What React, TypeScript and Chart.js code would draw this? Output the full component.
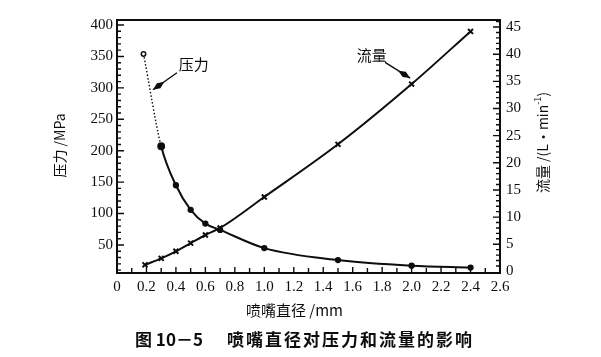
import React, { useEffect, useRef } from "react";
import { Chart, registerables } from "chart.js";

Chart.register(...registerables);

// ---- data ----
const pressureDiameters = [0.18, 0.3, 0.4, 0.5, 0.6, 0.7, 1.0, 1.5, 2.0, 2.4];
const pressureValues = [354, 207, 145, 106, 84, 74, 45, 26, 17, 14];
const flowDiameters = [0.19, 0.3, 0.4, 0.5, 0.6, 0.7, 1.0, 1.5, 2.0, 2.4];
const flowValues = [1.2, 2.4, 3.7, 5.2, 6.7, 8.0, 13.7, 23.4, 34.5, 44.2];
const xTickValues = [0, 0.2, 0.4, 0.6, 0.8, 1.0, 1.2, 1.4, 1.6, 1.8, 2.0, 2.2, 2.4, 2.6];
const pressureTickValues = [50, 100, 150, 200, 250, 300, 350, 400];
const flowTickValues = [0, 5, 10, 15, 20, 25, 30, 35, 40, 45];

const xTitle = "喷嘴直径 /mm";
const leftTitle = "压力 /MPa";
const rightTitleBase = "流量 /(L·min";
const rightTitleSup = "-1";
const captionFigure = "图 10－5";
const captionText = "喷嘴直径对压力和流量的影响";
const pressureLabel = "压力";
const flowLabel = "流量";
// annotation anchors in data units: [labelX, labelY, arrowFromX, arrowFromY, arrowToX, arrowToY]
const pressureNote = [0.42, 338, 0.407, 324, 0.244, 297];
const flowNote = [1.73, 39.8, 1.82, 38.5, 1.99, 35.6];

const INK = "#0d0d0d";
const CJK = '"Noto Sans CJK SC", sans-serif';
const SERIF = '"Liberation Serif", "DejaVu Serif", serif';

function arrow(ctx: CanvasRenderingContext2D, x0: number, y0: number, x1: number, y1: number) {
  const ang = Math.atan2(y1 - y0, x1 - x0);
  ctx.beginPath();
  ctx.moveTo(x0, y0);
  ctx.lineTo(x1, y1);
  ctx.lineWidth = 1.4;
  ctx.stroke();
  const L = 14, W = 3;
  const bx = x1 - Math.cos(ang) * L, by = y1 - Math.sin(ang) * L;
  const mx = x1 - Math.cos(ang) * L * 0.5, my = y1 - Math.sin(ang) * L * 0.5;
  const nx = -Math.sin(ang), ny = Math.cos(ang);
  ctx.beginPath();
  ctx.moveTo(x1, y1);
  ctx.lineTo(mx + nx * W, my + ny * W);
  ctx.lineTo(bx, by);
  ctx.lineTo(mx - nx * W, my - ny * W);
  ctx.closePath();
  ctx.fill();
}

const decorPlugin = {
  id: "decor",
  afterDraw(chart: any) {
    const { ctx, chartArea: a, scales } = chart;
    const sx = scales.x, sy = scales.y, sy1 = scales.y1;
    ctx.save();
    ctx.strokeStyle = INK;
    ctx.fillStyle = INK;
    // frame
    ctx.lineWidth = 2;
    ctx.strokeRect(a.left, a.top, a.right - a.left, a.bottom - a.top);
    // inward ticks
    ctx.lineWidth = 1.4;
    ctx.beginPath();
    for (let i = 1; i < 26; i++) {
      const px = sx.getPixelForValue(i / 10);
      ctx.moveTo(px, a.bottom);
      ctx.lineTo(px, a.bottom - (i % 2 === 0 ? 6 : 5));
    }
    for (let v = 10; v <= 400; v += 10) {
      const py = sy.getPixelForValue(v);
      const L = v % 50 === 0 ? 7 : 4;
      ctx.moveTo(a.left, py);
      ctx.lineTo(a.left + L, py);
    }
    for (let v = 1; v <= 46; v++) {
      const py = sy1.getPixelForValue(v);
      const L = v % 5 === 0 ? 7 : 4;
      ctx.moveTo(a.right, py);
      ctx.lineTo(a.right - L, py);
    }
    ctx.stroke();

    // annotations
    ctx.font = `15px ${CJK}`;
    ctx.textBaseline = "middle";
    ctx.textAlign = "left";
    ctx.fillText(pressureLabel, sx.getPixelForValue(pressureNote[0]), sy.getPixelForValue(pressureNote[1]));
    arrow(ctx,
      sx.getPixelForValue(pressureNote[2]), sy.getPixelForValue(pressureNote[3]),
      sx.getPixelForValue(pressureNote[4]), sy.getPixelForValue(pressureNote[5]));
    ctx.textAlign = "center";
    ctx.fillText(flowLabel, sx.getPixelForValue(flowNote[0]), sy1.getPixelForValue(flowNote[1]));
    arrow(ctx,
      sx.getPixelForValue(flowNote[2]), sy1.getPixelForValue(flowNote[3]),
      sx.getPixelForValue(flowNote[4]), sy1.getPixelForValue(flowNote[5]));

    // axis titles
    const cx = (a.left + a.right) / 2;
    ctx.font = `15px ${CJK}`;
    ctx.textAlign = "center";
    ctx.fillText(xTitle, cx - 14, a.bottom + 37);

    const cy = (a.top + a.bottom) / 2;
    ctx.save();
    ctx.translate(a.left - 57, cy - 1);
    ctx.rotate(-Math.PI / 2);
    ctx.font = `14px ${CJK}`;
    ctx.fillText(leftTitle, 0, 0);
    ctx.restore();

    ctx.save();
    ctx.translate(a.right + 43, cy - 4);
    ctx.rotate(-Math.PI / 2);
    ctx.font = `14px ${CJK}`;
    const w1 = ctx.measureText(rightTitleBase).width;
    ctx.font = `9px ${CJK}`;
    const w2 = ctx.measureText(rightTitleSup).width;
    ctx.font = `14px ${CJK}`;
    const w3 = ctx.measureText(")").width;
    const start = -(w1 + w2 + w3) / 2;
    ctx.textAlign = "left";
    ctx.fillText(rightTitleBase, start, 0);
    ctx.font = `9px ${CJK}`;
    ctx.fillText(rightTitleSup, start + w1, -5);
    ctx.font = `14px ${CJK}`;
    ctx.fillText(")", start + w1 + w2, 0);
    ctx.restore();

    // caption
    ctx.font = `bold 17px ${CJK}`;
    ctx.textAlign = "left";
    ctx.fillText(captionFigure, 135, a.bottom + 67);
    (ctx as any).letterSpacing = "2px";
    ctx.fillText(captionText, 227, a.bottom + 67);
    (ctx as any).letterSpacing = "0px";
    ctx.restore();
  },
};

export default function App() {
  const ref = useRef<HTMLCanvasElement | null>(null);
  useEffect(() => {
    if (!ref.current) return;
    const chart = new Chart(ref.current, {
      type: "line",
      data: {
        datasets: [
          {
            label: pressureLabel,
            data: pressureDiameters.map((d, i) => ({ x: d, y: pressureValues[i] })),
            yAxisID: "y",
            borderColor: INK,
            borderWidth: 2,
            cubicInterpolationMode: "monotone",
            pointRadius: pressureDiameters.map((_, i) => (i === 0 ? 2.2 : i === 1 ? 3.2 : 2.4)),
            pointBackgroundColor: pressureDiameters.map((_, i) => (i === 0 ? "#fff" : INK)),
            pointBorderColor: INK,
            pointBorderWidth: 1.5,
            segment: {
              borderDash: (c: any) => (c.p0DataIndex === 0 ? [1.5, 2] : undefined),
              borderWidth: (c: any) => (c.p0DataIndex === 0 ? 1.4 : undefined),
            },
          },
          {
            label: flowLabel,
            data: flowDiameters.map((d, i) => ({ x: d, y: flowValues[i] })),
            yAxisID: "y1",
            borderColor: INK,
            borderWidth: 2,
            cubicInterpolationMode: "monotone",
            pointStyle: "crossRot",
            pointRadius: 3.5,
            pointBorderColor: INK,
            pointBorderWidth: 2,
          },
        ],
      } as any,
      options: {
        animation: false,
        responsive: false,
        layout: { padding: { top: 20, left: 0, right: 0, bottom: 0 } },
        plugins: { legend: { display: false }, tooltip: { enabled: false } },
        scales: {
          x: {
            type: "linear",
            min: 0,
            max: 2.6,
            grid: { display: false, drawTicks: false },
            border: { display: false },
            afterBuildTicks: (s: any) => { s.ticks = xTickValues.map((v) => ({ value: v })); },
            afterFit: (s: any) => { s.height = 84; },
            ticks: {
              padding: 5,
              color: INK,
              font: { family: SERIF, size: 15 },
              maxRotation: 0,
              autoSkip: false,
              callback: (v: any) => (Number(v) === 0 ? "0" : Number(v).toFixed(1)),
            },
          },
          y: {
            type: "linear",
            position: "left",
            min: 5.4,
            max: 408,
            grid: { display: false, drawTicks: false },
            border: { display: false },
            afterBuildTicks: (s: any) => { s.ticks = pressureTickValues.map((v) => ({ value: v })); },
            afterFit: (s: any) => { s.width = 117; },
            ticks: { padding: 4, color: INK, font: { family: SERIF, size: 15 } },
          },
          y1: {
            type: "linear",
            position: "right",
            min: -0.3,
            max: 46.3,
            grid: { display: false, drawTicks: false },
            border: { display: false },
            afterBuildTicks: (s: any) => { s.ticks = flowTickValues.map((v) => ({ value: v })); },
            afterFit: (s: any) => { s.width = 101; },
            ticks: { padding: 6, color: INK, font: { family: SERIF, size: 15 } },
          },
        },
      } as any,
      plugins: [decorPlugin],
    });
    return () => chart.destroy();
  }, []);
  return (
    <div style={{ position: "fixed", left: 0, top: 0, width: 601, height: 357, background: "#fff" }}>
      <canvas ref={ref} width={601} height={357} />
    </div>
  );
}
